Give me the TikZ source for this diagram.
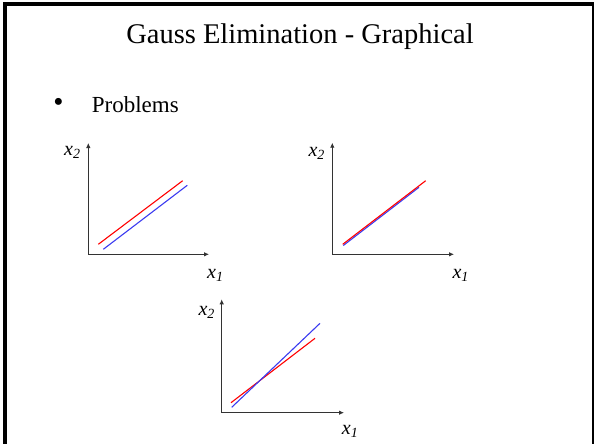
\documentclass[tikz,border=0pt]{standalone}
\usepackage{fontspec}
\setmainfont{Liberation Serif}
\usetikzlibrary{arrows.meta}
\definecolor{axisgray}{HTML}{333333}
\definecolor{lineblue}{HTML}{3A3AF0}

\begin{document}
\begin{tikzpicture}[
        x=1pt, y=-1pt,
        axis/.style={draw=axisgray, line width=0.9pt,
          -{Latex[length=5pt, width=4.5pt]}},
        redline/.style={draw=red, line width=1.1pt},
        blueline/.style={draw=lineblue, line width=1.1pt},
        lbl/.style={anchor=base west, inner sep=0pt,
          font=\fontsize{20}{22}\selectfont\itshape}
      ]
      \useasboundingbox (0,0) rectangle (594,444);
      \draw[line width=4pt] (4.5,4) rectangle (593.5,448);

      \node[anchor=base, inner sep=0pt, font=\fontsize{28.5}{32}\selectfont]
      (title) at (300,43.3) {Gauss Elimination - Graphical};
      \node[anchor=center, inner sep=0pt, font=\fontsize{29}{31}\selectfont]
      (bullet) at (58.5,104.5) {\textbullet};
      \node[anchor=base west, inner sep=0pt, font=\fontsize{23}{26}\selectfont]
      (problems) at (91.7,112.5) {Problems};

      % first plot: parallel lines
      \coordinate (o1) at (88.3,254.3);
      \coordinate (y1) at (88.3,143);
      \coordinate (x1) at (209,254.3);
      \draw[axis] (o1) -- (y1);
      \draw[axis] (o1) -- (x1);
      \draw[redline] (98.3,244.3) coordinate (r1a) -- (182.7,180.7) coordinate (r1b);
      \draw[blueline] (103.3,249.3) coordinate (b1a) -- (187.3,185.3) coordinate (b1b);
      \node[lbl] (l1y) at (64,155) {x\textsubscript{2}};
      \node[lbl] (l1x) at (207,278.5) {x\textsubscript{1}};

      % second plot: same line twice
      \coordinate (o2) at (332.3,254.3);
      \coordinate (y2) at (332.3,142.7);
      \coordinate (x2) at (454,254.3);
      \draw[axis] (o2) -- (y2);
      \draw[axis] (o2) -- (x2);
      \draw[blueline] (343.3,245.5) coordinate (b2a) -- (419,187.3) coordinate (b2b);
      \draw[redline] (342.7,244.3) coordinate (r2a) -- (425.7,180.7) coordinate (r2b);
      \node[lbl] (l2y) at (308.3,156.7) {x\textsubscript{2}};
      \node[lbl] (l2x) at (452.3,278.3) {x\textsubscript{1}};

      % third plot: nearly parallel lines
      \coordinate (o3) at (221.7,412.7);
      \coordinate (y3) at (221.7,299.3);
      \coordinate (x3) at (344,412.7);
      \draw[axis] (o3) -- (y3);
      \draw[axis] (o3) -- (x3);
      \draw[redline] (231,402.7) coordinate (r3a) -- (315,338.3) coordinate (r3b);
      \draw[blueline] (231.7,407.3) coordinate (b3a) -- (320,323.3) coordinate (b3b);
      \node[lbl] (l3y) at (198.3,315) {x\textsubscript{2}};
      \node[lbl] (l3x) at (341.7,434) {x\textsubscript{1}};

    \end{tikzpicture}
\end{document}
